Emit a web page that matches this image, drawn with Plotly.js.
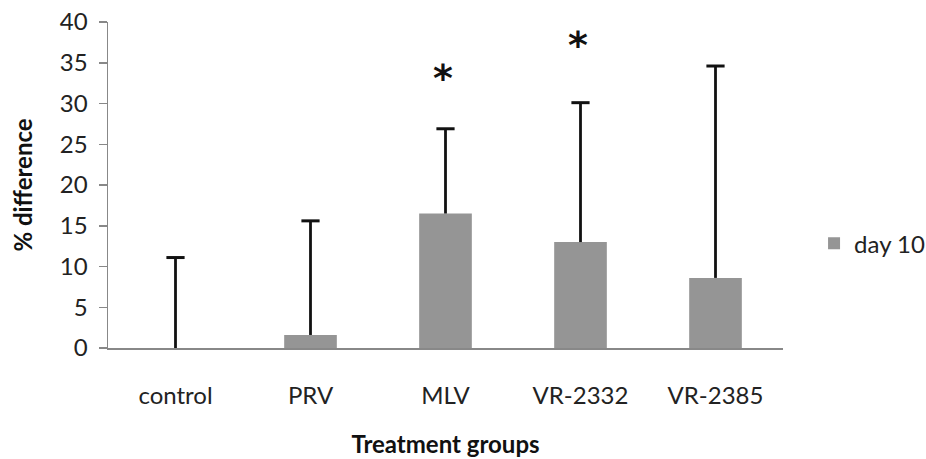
<!DOCTYPE html>
<html><head><meta charset="utf-8">
<script src="https://cdn.plot.ly/plotly-3.0.1.min.js"></script>
<style>body{margin:0;background:#fff}#chart{width:926px;height:459px}</style>
</head><body><div id="chart"></div>
<script>
var categories = ["control", "PRV", "MLV", "VR-2332", "VR-2385"];
var values = [0, 1.6, 16.5, 13.0, 8.6];
var errorsUp = [11.1, 14.0, 10.4, 17.1, 26.0];
var starCategories = ["MLV", "VR-2332"];
var starY = [34.1, 38.2];
var yTicks = [0, 5, 10, 15, 20, 25, 30, 35, 40];

var font = "Lato, 'Open Sans', sans-serif";
var tops = values.map(function(v, i){ return v + errorsUp[i]; });
var trace = {
  type: "bar", x: categories, y: values, name: "day 10",
  marker: {color: "#959595"},
  width: 0.39,
  error_y: {type: "data", symmetric: false, array: errorsUp,
            arrayminus: values.map(function(){return 0;}),
            color: "#111111", thickness: 2.8, width: 0}
};
var caps = {
  type: "scatter", mode: "markers", x: categories, y: tops, showlegend: false,
  hoverinfo: "skip",
  marker: {symbol: "line-ew", size: 13, line: {color: "#111111", width: 3}}
};
var annotations = starCategories.map(function(c, i){
  return {x: c, y: starY[i], xref: "x", yref: "y", text: "<b>*</b>", showarrow: false,
          font: {family: "DejaVu Sans, sans-serif", size: 38, color: "#111"}, yshift: -8, xshift: -3};
});
var layout = {
  width: 926, height: 459,
  margin: {l: 108, r: 143, t: 22, b: 111, autoexpand: false},
  paper_bgcolor: "#fff", plot_bgcolor: "#fff",
  showlegend: true,
  legend: {x: 1.046, y: 0.32, yanchor: "middle", xanchor: "left",
           font: {family: font, size: 24, color: "#222"}},
  font: {family: font, size: 24, color: "#222"},
  xaxis: {type: "category", showline: true, linecolor: "#888", linewidth: 1.5,
          ticks: "", ticklabelstandoff: 26, range: [-0.5, 4.5],
          tickfont: {family: font, size: 24, color: "#222"},
          title: {text: "<b>Treatment groups</b>", standoff: 28,
                  font: {family: font, size: 24, color: "#111"}}},
  yaxis: {range: [0, 40], tickvals: yTicks, showgrid: false, zeroline: false,
          showline: true, linecolor: "#888", linewidth: 1.5,
          ticks: "outside", ticklen: 8, tickcolor: "#888", tickwidth: 1.5,
          ticklabelstandoff: 6,
          tickfont: {family: font, size: 24, color: "#222"},
          title: {text: "<b>% difference</b>", standoff: 20,
                  font: {family: font, size: 24, color: "#111"}}},
  annotations: annotations
};
Plotly.newPlot("chart", [trace, caps], layout, {displayModeBar: false, staticPlot: true});
</script></body></html>
